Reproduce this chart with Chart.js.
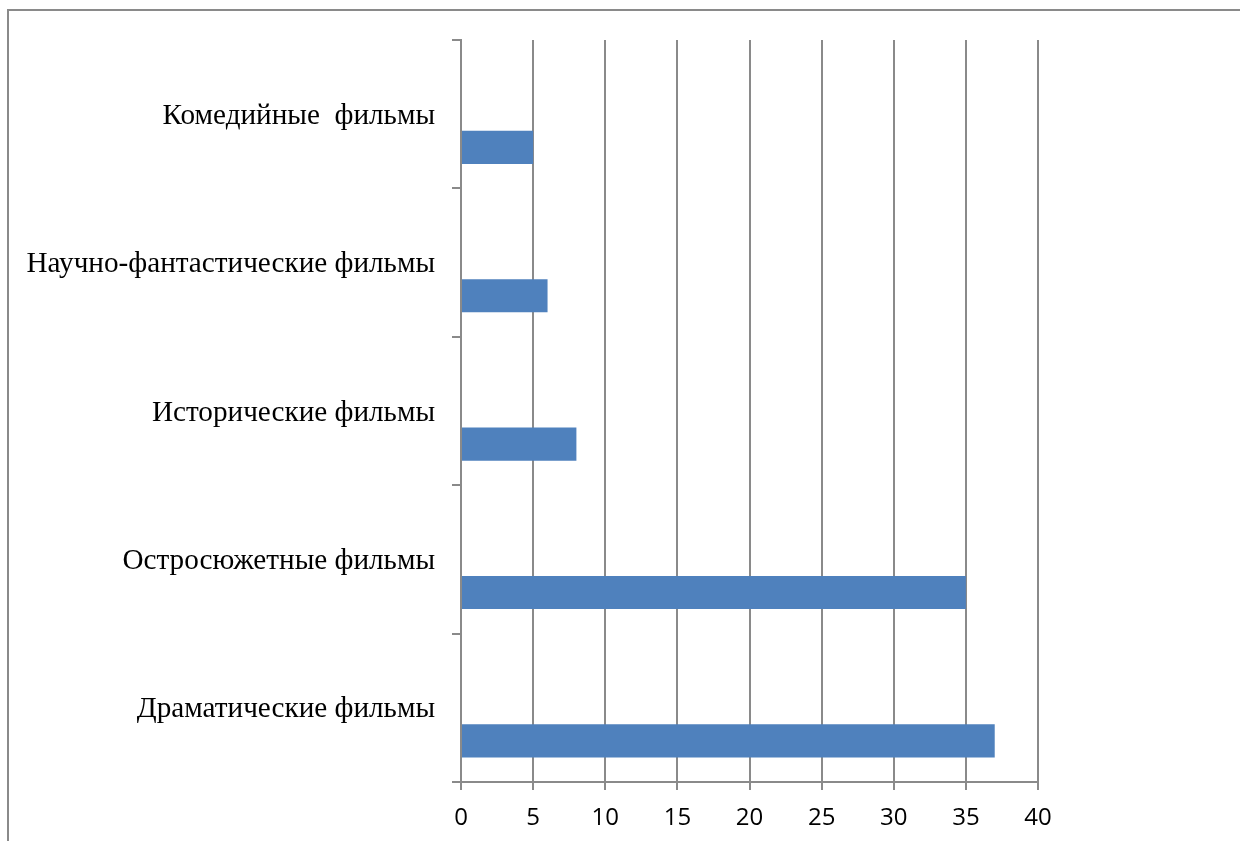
<!DOCTYPE html>
<html>
<head>
<meta charset="utf-8">
<script src="https://cdn.jsdelivr.net/npm/chart.js@4/dist/chart.umd.min.js"></script>
<style>
  html, body { margin: 0; padding: 0; background: #fff; }
  #wrap { position: relative; width: 1240px; height: 841px; overflow: hidden; }
  #frame { position: absolute; left: 7px; top: 9px; width: 1300px; height: 900px;
           border-left: 2px solid #8a8a8a; border-top: 2px solid #8a8a8a; box-sizing: border-box; }
  canvas { position: absolute; left: 0; top: 0; }
</style>
</head>
<body>
<div id="wrap">
  <div id="frame"></div>
  <canvas id="c" width="1240" height="841"></canvas>
</div>
<script>
const categories = [
  "Комедийные  фильмы",
  "Научно-фантастические фильмы",
  "Исторические фильмы",
  "Остросюжетные фильмы",
  "Драматические фильмы"
];
const filmValues = [5, 6, 8, 35, 37];
const emptySeries = [null, null, null, null, null];
const xMin = 0, xMax = 40, xStep = 5;

const gridColor = '#8a8a8a';

new Chart(document.getElementById('c'), {
  type: 'bar',
  data: {
    labels: categories,
    datasets: [
      { label: 'a', data: emptySeries, backgroundColor: '#4F81BD' },
      { label: 'b', data: emptySeries, backgroundColor: '#4F81BD' },
      { label: 'Фильмы', data: filmValues, backgroundColor: '#4F81BD' }
    ]
  },
  options: {
    indexAxis: 'y',
    responsive: false,
    animation: false,
    events: [],
    categoryPercentage: 0.67,
    barPercentage: 1.0,
    layout: { padding: { top: 40, right: 202, left: 0, bottom: 0 } },
    plugins: { legend: { display: false }, tooltip: { enabled: false }, title: { display: false } },
    scales: {
      x: {
        type: 'linear',
        min: xMin, max: xMax,
        ticks: { stepSize: xStep, color: '#000', padding: 14,
                 font: { family: 'Open Sans', size: 24 } },
        grid: { color: gridColor, lineWidth: 2, tickLength: 8, tickColor: gridColor },
        border: { display: true, color: gridColor, width: 2 },
        afterFit: (s) => { s.height = 59; }
      },
      y: {
        type: 'category',
        offset: true,
        ticks: { color: '#000', padding: 17, labelOffset: 2,
                 font: { family: 'Liberation Serif', size: 29.2 } },
        grid: { offset: true, drawOnChartArea: false, tickLength: 9, tickColor: gridColor, lineWidth: 2 },
        border: { display: true, color: gridColor, width: 2 },
        afterFit: (s) => { s.width = 461; }
      }
    }
  }
});
</script>
</body>
</html>
